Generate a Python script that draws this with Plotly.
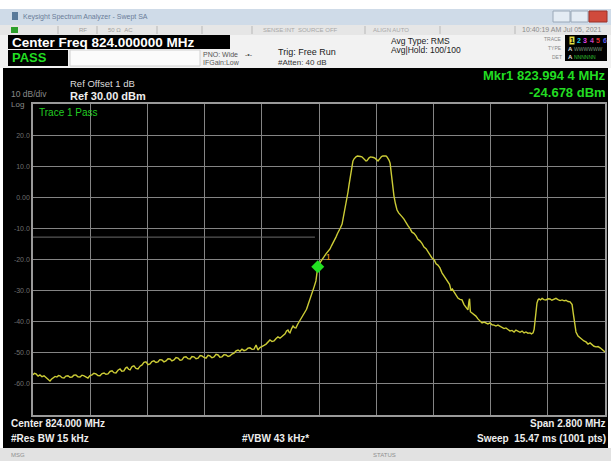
import plotly.graph_objects as go

W, H = 611, 461

# ---- data ----
FREQ_MHZ = [
    822.600, 822.607, 822.615, 822.625, 822.634, 822.644, 822.654, 822.663, 822.673, 822.683,
    822.690, 822.698, 822.708, 822.717, 822.725, 822.732, 822.742, 822.752, 822.761, 822.771,
    822.781, 822.791, 822.800, 822.810, 822.820, 822.830, 822.840, 822.850, 822.860, 822.869,
    822.879, 822.889, 822.898, 822.908, 822.918, 822.928, 822.938, 822.948, 822.957, 822.967,
    822.977, 822.987, 822.996, 823.006, 823.016, 823.026, 823.035, 823.045, 823.053, 823.060,
    823.068, 823.075, 823.085, 823.094, 823.104, 823.114, 823.124, 823.134, 823.143, 823.153,
    823.163, 823.173, 823.182, 823.192, 823.202, 823.212, 823.221, 823.231, 823.241, 823.251,
    823.261, 823.271, 823.280, 823.290, 823.300, 823.310, 823.320, 823.329, 823.339, 823.349,
    823.359, 823.369, 823.378, 823.388, 823.398, 823.408, 823.418, 823.427, 823.437, 823.447,
    823.457, 823.466, 823.476, 823.486, 823.496, 823.506, 823.515, 823.525, 823.535, 823.545,
    823.555, 823.564, 823.574, 823.584, 823.594, 823.604, 823.613, 823.623, 823.633, 823.643,
    823.652, 823.662, 823.672, 823.682, 823.692, 823.701, 823.711, 823.721, 823.731, 823.741,
    823.750, 823.760, 823.770, 823.780, 823.790, 823.799, 823.809, 823.819, 823.827, 823.834,
    823.841, 823.848, 823.853, 823.858, 823.866, 823.873, 823.880, 823.887, 823.895, 823.902,
    823.910, 823.917, 823.924, 823.931, 823.939, 823.946, 823.954, 823.961, 823.969, 823.976,
    823.985, 823.994, 824.005, 824.015, 824.025, 824.034, 824.044, 824.054, 824.061, 824.069,
    824.076, 824.083, 824.090, 824.098, 824.105, 824.113, 824.118, 824.122, 824.127, 824.132,
    824.137, 824.142, 824.147, 824.152, 824.157, 824.162, 824.166, 824.171, 824.176, 824.181,
    824.188, 824.196, 824.203, 824.210, 824.218, 824.225, 824.230, 824.235, 824.240, 824.245,
    824.252, 824.259, 824.267, 824.274, 824.281, 824.289, 824.294, 824.298, 824.306, 824.313,
    824.320, 824.328, 824.333, 824.338, 824.343, 824.348, 824.352, 824.357, 824.362, 824.367,
    824.374, 824.382, 824.390, 824.397, 824.406, 824.416, 824.426, 824.436, 824.445, 824.455,
    824.465, 824.475, 824.484, 824.494, 824.504, 824.514, 824.524, 824.534, 824.543, 824.553,
    824.563, 824.573, 824.582, 824.592, 824.602, 824.612, 824.621, 824.631, 824.639, 824.646,
    824.653, 824.661, 824.670, 824.680, 824.690, 824.700, 824.710, 824.720, 824.729, 824.734,
    824.737, 824.741, 824.749, 824.759, 824.768, 824.778, 824.788, 824.798, 824.808, 824.817,
    824.827, 824.837, 824.847, 824.857, 824.866, 824.876, 824.886, 824.896, 824.906, 824.915,
    824.925, 824.935, 824.945, 824.955, 824.964, 824.974, 824.984, 824.994, 825.004, 825.013,
    825.023, 825.033, 825.040, 825.048, 825.053, 825.057, 825.062, 825.067, 825.072, 825.077,
    825.084, 825.092, 825.101, 825.111, 825.121, 825.131, 825.140, 825.150, 825.160, 825.170,
    825.180, 825.190, 825.200, 825.209, 825.219, 825.229, 825.234, 825.239, 825.244, 825.248,
    825.253, 825.258, 825.268, 825.278, 825.288, 825.297, 825.307, 825.317, 825.327, 825.336,
    825.346, 825.356, 825.366, 825.376, 825.386, 825.395, 825.400,
]
LEVEL_DBM = [
    -57.1, -56.6, -56.8, -57.5, -57.1, -57.7, -57.4, -58.0, -58.4, -59.1,
    -58.5, -58.1, -57.6, -57.8, -57.3, -57.4, -58.0, -58.1, -57.5, -57.4,
    -57.9, -57.8, -57.2, -57.1, -57.7, -57.8, -57.2, -57.4, -57.9, -58.1,
    -57.3, -57.1, -56.6, -56.8, -57.3, -57.4, -56.7, -56.5, -56.9, -56.8,
    -56.0, -55.8, -56.4, -56.5, -55.6, -55.2, -55.9, -55.8, -54.9, -54.6,
    -55.3, -55.5, -54.4, -54.2, -55.0, -55.2, -54.3, -53.9, -53.1, -52.9,
    -53.8, -53.6, -52.8, -52.6, -53.1, -52.9, -52.2, -52.3, -52.9, -52.6,
    -51.9, -52.0, -52.6, -52.3, -51.5, -51.7, -52.4, -52.3, -51.4, -51.3,
    -51.9, -52.0, -51.2, -51.3, -51.9, -51.7, -50.9, -51.0, -51.5, -51.7,
    -50.8, -51.0, -51.6, -51.3, -50.5, -50.7, -51.4, -51.3, -50.6, -50.7,
    -51.2, -51.0, -50.4, -50.1, -49.4, -49.1, -49.5, -48.8, -49.3, -49.1,
    -48.5, -48.4, -48.9, -48.8, -47.5, -49.1, -48.3, -47.8, -47.6, -47.2,
    -46.5, -45.9, -46.4, -46.2, -45.4, -44.9, -45.3, -44.6, -44.1, -43.9,
    -43.0, -42.7, -43.3, -43.6, -42.2, -41.4, -41.9, -42.0, -40.9, -40.1,
    -39.4, -38.8, -37.9, -36.9, -36.0, -34.6, -33.2, -31.7, -30.2, -28.8,
    -26.9, -22.3, -21.0, -20.2, -19.1, -18.2, -17.4, -16.6, -15.6, -14.7,
    -13.8, -12.8, -11.7, -10.8, -9.8, -8.6, -7.0, -5.4, -3.6, -1.8,
    0.0, 1.7, 4.0, 6.2, 8.4, 10.4, 11.6, 12.3, 12.8, 13.0,
    13.3, 13.3, 13.1, 13.0, 12.4, 11.9, 11.7, 11.8, 12.4, 12.7,
    13.0, 13.0, 12.8, 12.6, 12.0, 11.7, 12.1, 12.6, 13.1, 13.3,
    13.4, 13.3, 13.0, 12.6, 11.9, 11.0, 8.5, 5.6, 3.0, 0.4,
    -2.0, -4.1, -5.0, -5.7, -6.2, -7.0, -8.3, -9.2, -10.0, -11.2,
    -11.6, -12.4, -13.5, -14.0, -14.8, -16.0, -16.5, -17.6, -18.8, -19.5,
    -20.0, -21.4, -21.8, -22.7, -24.3, -25.3, -25.9, -27.2, -28.0, -29.8,
    -29.5, -30.4, -31.6, -32.4, -32.8, -33.0, -34.5, -35.5, -36.2, -33.5,
    -32.6, -36.8, -37.2, -37.8, -38.2, -39.1, -39.6, -40.4, -40.1, -40.4,
    -40.7, -40.4, -41.0, -41.1, -41.4, -41.1, -41.5, -41.7, -42.2, -42.0,
    -42.6, -43.0, -42.8, -43.3, -42.7, -43.0, -43.4, -43.0, -43.6, -43.3,
    -43.7, -43.6, -43.9, -43.6, -42.5, -40.1, -36.5, -34.0, -33.0, -32.7,
    -33.0, -32.5, -32.9, -33.0, -32.6, -32.7, -33.1, -32.8, -32.5, -32.9,
    -33.2, -33.0, -33.3, -33.1, -33.5, -33.6, -34.0, -34.5, -37.0, -39.4,
    -42.0, -43.3, -44.6, -45.2, -45.8, -46.2, -46.5, -47.2, -46.8, -47.5,
    -47.9, -48.1, -48.0, -48.4, -49.0, -49.4, -49.7,
]

MARKER_FREQ = [823.994]
MARKER_LEVEL = [-22.3]
MARKER_LABEL_FREQ = [824.045]
MARKER_LABEL_LEVEL = [-19.5]

LIMIT_FREQ = [822.600, 823.980]
LIMIT_LEVEL = [-12.8, -12.8]

X_RANGE = [822.6, 825.4]
Y_RANGE = [-70, 30]
Y_TICKS = [20, 10, 0, -10, -20, -30, -40, -50, -60]
Y_TICK_TEXT = ["20.0", "10.0", "0.00", "-10.0", "-20.0", "-30.0", "-40.0", "-50.0", "-60.0"]
X_TICKS = [822.6 + 0.28 * i for i in range(11)]

# ---- helpers for page layout (pixel -> paper) ----
def px(x):
    return x / W

def py(y):
    return 1 - y / H

FONT = "Liberation Sans, Arial, sans-serif"
shapes = []
annotations = []

def rect(x0, y0, x1, y1, fill, line=None, lw=0):
    shapes.append(dict(type="rect", xref="paper", yref="paper",
                       x0=px(x0), x1=px(x1), y0=py(y1), y1=py(y0),
                       fillcolor=fill, line=dict(color=line or fill, width=lw),
                       layer="below"))

def txt(x, y, s, size, color, anchor="left", bold=False, bg=None):
    annotations.append(dict(x=px(x), y=py(y), xref="paper", yref="paper",
                            text=("<b>%s</b>" % s) if bold else s, showarrow=False,
                            xanchor=anchor, yanchor="middle",
                            font=dict(family=FONT, size=size, color=color),
                            bgcolor=bg, borderpad=0))

# page background pieces
rect(0, 9, 611, 25, "#cfdbe8")            # title bar
rect(553, 11, 570, 22, "#e4ecf4", "#9aa8b8", 1)
rect(571, 11, 588, 22, "#e4ecf4", "#9aa8b8", 1)
rect(589, 11, 607, 22, "#d04a3c", "#9a3028", 1)
rect(12, 12, 18, 20, "#5a7a9a")
rect(0, 25, 611, 35, "#e6e6e6")           # status row
rect(11, 27, 18, 33, "#2ca02c")
for sx in [58, 97, 157, 202, 252, 365, 440, 515]:
    shapes.append(dict(type="line", xref="paper", yref="paper", x0=px(sx), x1=px(sx),
                       y0=py(26), y1=py(34), line=dict(color="#b8b8b8", width=1), layer="below"))
rect(0, 35, 611, 68, "#f2f2f2")           # settings panel
rect(8, 35, 230, 49, "#000000")
rect(8, 50, 68, 66, "#000000")
rect(70, 50, 200, 66, "#fbfbfb", "#d0d0d0", 1)
rect(565, 35, 607, 61, "#000000")
rect(3, 68, 608, 448, "#000000")          # main display
rect(0, 448, 611, 461, "#e2e2e2")          # bottom status bar

# title / header text
txt(22, 17, "Keysight Spectrum Analyzer - Swept SA", 7, "#6a7c98")
txt(78, 30, "RF", 6, "#a0a0a0")
txt(107, 30, "50 Ω  AC", 6, "#a0a0a0")
txt(262, 30, "SENSE:INT  SOURCE OFF", 6, "#a8a8a8")
txt(372, 30, "ALIGN AUTO", 6, "#a8a8a8")
txt(603, 30, "10:40:19 AM Jul 05, 2021", 7, "#8a8a8a", anchor="right")
txt(11, 42, "Center Freq 824.000000 MHz", 13.5, "#ffffff", bold=True)
txt(11, 58, "PASS", 13, "#22dd22", bold=True)
txt(202, 54, "PNO: Wide", 7, "#555555")
txt(202, 62, "IFGain:Low", 7, "#555555")
txt(244, 54, "-•-", 7, "#555555")
txt(277, 52, "Trig: Free Run", 9, "#222222")
txt(277, 62, "#Atten: 40 dB", 8, "#333333")
txt(390, 41, "Avg Type: RMS", 8.5, "#222222")
txt(390, 50, "Avg|Hold: 100/100", 8.5, "#222222")
txt(563, 39, "TRACE", 5, "#888888", anchor="right")
txt(563, 48, "TYPE", 5, "#888888", anchor="right")
txt(563, 57, "DET", 5, "#888888", anchor="right")
for i, (d, c) in enumerate(zip("123456", ["#000000", "#22c8e8", "#e040e0", "#c040c0", "#e03030", "#6060f0"])):
    txt(569 + i * 6.5, 40, d, 7, c, bold=True, bg="#e8e040" if i == 0 else None)
txt(567, 48.5, "A", 6, "#e0e0e0", bold=True)
txt(573, 48.5, "WWWWWW", 5, "#7a9a7a")
txt(567, 56.5, "A", 6, "#e0e0e0", bold=True)
txt(573, 56.5, "NNNNNN", 5, "#30c030")

# display text
txt(10, 94, "10 dB/div", 8.5, "#8a8a8a")
txt(10, 104, "Log", 8, "#8a8a8a")
txt(69, 84, "Ref Offset 1 dB", 9.5, "#dddddd")
txt(69, 96, "Ref 30.00 dBm", 11, "#eeeeee", bold=True)
txt(607, 76, "Mkr1 823.994 4 MHz", 13, "#22dd22", anchor="right", bold=True)
txt(607, 92, "-24.678 dBm", 13, "#22dd22", anchor="right", bold=True)
txt(38, 112, "Trace 1 Pass", 10, "#22cc22")
txt(10, 423, "Center 824.000 MHz", 10, "#eeeeee", bold=True)
txt(10, 438, "#Res BW 15 kHz", 10, "#eeeeee", bold=True)
txt(241, 438, "#VBW 43 kHz*", 10, "#eeeeee", bold=True)
txt(607, 423, "Span 2.800 MHz", 10, "#eeeeee", anchor="right", bold=True)
txt(607, 438, "Sweep  15.47 ms (1001 pts)", 10, "#eeeeee", anchor="right", bold=True)
txt(10, 455, "MSG", 6, "#909090")
txt(372, 455, "STATUS", 6, "#909090")

fig = go.Figure()
fig.add_trace(go.Scatter(x=LIMIT_FREQ, y=LIMIT_LEVEL, mode="lines",
                         line=dict(color="#6a6a6a", width=1), hoverinfo="skip"))
fig.add_trace(go.Scatter(x=FREQ_MHZ, y=LEVEL_DBM, mode="lines",
                         line=dict(color="#cccc36", width=1.4)))
fig.add_trace(go.Scatter(x=MARKER_FREQ, y=MARKER_LEVEL, mode="markers",
                         marker=dict(symbol="diamond", size=10, color="#22e022")))
fig.add_trace(go.Scatter(x=MARKER_LABEL_FREQ, y=MARKER_LABEL_LEVEL, mode="text", text=["1"],
                         textfont=dict(family=FONT, size=9, color="#e8a020")))

fig.update_layout(
    width=W, height=H, autosize=False,
    margin=dict(l=0, r=0, t=0, b=0),
    paper_bgcolor="#ffffff", plot_bgcolor="rgba(0,0,0,0)",
    showlegend=False,
    shapes=shapes, annotations=annotations,
    xaxis=dict(domain=[px(33), px(605)], range=X_RANGE, tickvals=X_TICKS,
               showticklabels=False, showgrid=True, gridcolor="#848484", gridwidth=1.2,
               zeroline=False, showline=True, mirror=True, linecolor="#9a9a9a", linewidth=1.5,
               ticks=""),
    yaxis=dict(domain=[py(415), py(104)], range=Y_RANGE, tickvals=Y_TICKS, ticktext=Y_TICK_TEXT,
               showgrid=True, gridcolor="#848484", gridwidth=1.2, zeroline=False,
               showline=True, mirror=True, linecolor="#9a9a9a", linewidth=1.5, ticks="",
               tickfont=dict(family=FONT, size=7, color="#6e6e6e")),
)
fig.write_html("out.html", config={"displayModeBar": False},
               post_script="document.body.style.margin='0';document.body.style.overflow='hidden';")
